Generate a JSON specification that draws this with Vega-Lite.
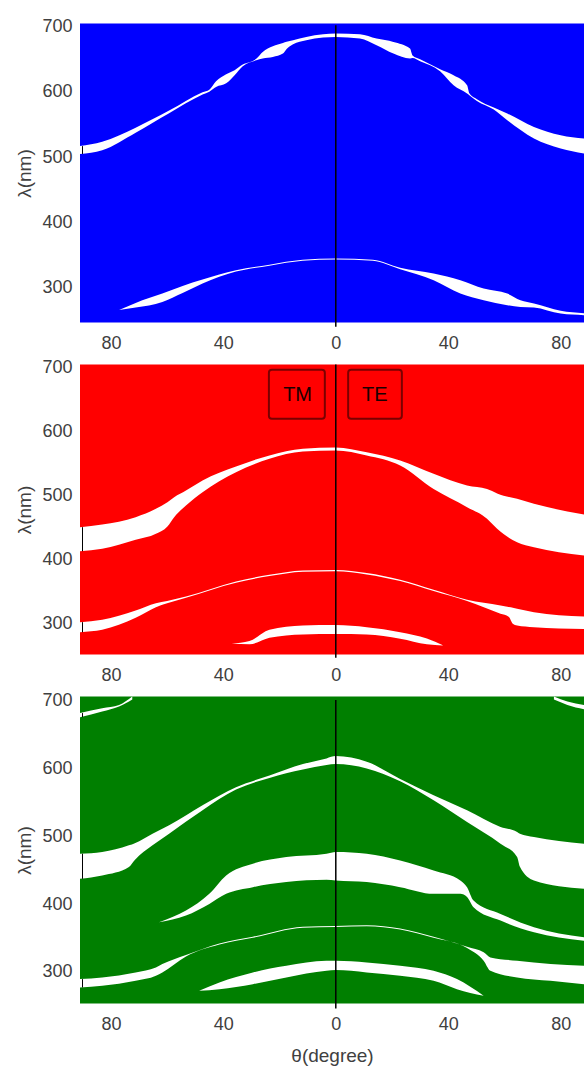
{
  "$schema": "https://vega.github.io/schema/vega-lite/v6.json",
  "padding": {"left": 15, "top": 17.5, "right": 0, "bottom": 2},
  "bounds": "flush",
  "spacing": 42,
  "config": {
    "font": "Liberation Sans",
    "view": {"stroke": null},
    "axis": {
      "labelFont": "Liberation Sans", "labelFontSize": 18, "labelColor": "#404040",
      "titleFont": "Liberation Sans", "titleFontSize": 19, "titleColor": "#404040", "titleFontWeight": "normal",
      "grid": false, "ticks": false, "domain": false, "labelFlush": false
    }
  },
  "datasets": {
    "bg": [
      {"p": 1, "t1": -91, "t2": 88.3, "l1": 246.7, "l2": 704.9},
      {"p": 2, "t1": -91, "t2": 88.3, "l1": 252.1, "l2": 704.2},
      {"p": 3, "t1": -91, "t2": 88.3, "l1": 253.2, "l2": 706.5}
    ],
    "zero": [
      {"p": 1, "t": 0, "l1": 240, "l2": 702.3},
      {"p": 2, "t": 0, "l1": 247, "l2": 704.2},
      {"p": 3, "t": 0, "l1": 246, "l2": 701.5}
    ],
    "boxes": [
      {"label": "TM", "t1": -23.8, "t2": -3.9, "l1": 619.6, "l2": 695.9, "tc": -13.6, "lc": 656.5},
      {"label": "TE", "t1": 4.4, "t2": 23.5, "l1": 619.6, "l2": 695.9, "tc": 13.9, "lc": 656.5}
    ],
    "gaps": [
      {"p":1,"g":"A","t":-91,"lo":505,"hi":517},
      {"p":1,"g":"A","t":-83.1,"lo":510.7,"hi":523.5},
      {"p":1,"g":"A","t":-71.2,"lo":537.5,"hi":545.2},
      {"p":1,"g":"A","t":-59.3,"lo":567.4,"hi":571.4},
      {"p":1,"g":"A","t":-47.4,"lo":596,"hi":599.5},
      {"p":1,"g":"A","t":-45,"lo":600.5,"hi":603.5},
      {"p":1,"g":"A","t":-42.6,"lo":607.7,"hi":616.5},
      {"p":1,"g":"A","t":-39,"lo":613.3,"hi":627.2},
      {"p":1,"g":"A","t":-36,"lo":625.7,"hi":633.3},
      {"p":1,"g":"A","t":-33.1,"lo":639.5,"hi":642},
      {"p":1,"g":"A","t":-28.3,"lo":648.5,"hi":651},
      {"p":1,"g":"A","t":-26,"lo":651.3,"hi":661.4},
      {"p":1,"g":"A","t":-22.4,"lo":653.7,"hi":670.1},
      {"p":1,"g":"A","t":-18.8,"lo":658.9,"hi":675.2},
      {"p":1,"g":"A","t":-17.5,"lo":666,"hi":677},
      {"p":1,"g":"A","t":-15.2,"lo":673.2,"hi":679.3},
      {"p":1,"g":"A","t":-10.5,"lo":679.3,"hi":684.4},
      {"p":1,"g":"A","t":-4.5,"lo":683.4,"hi":688.5},
      {"p":1,"g":"A","t":0,"lo":684.4,"hi":689.6},
      {"p":1,"g":"A","t":8.6,"lo":681.9,"hi":688.5},
      {"p":1,"g":"A","t":14.5,"lo":671.6,"hi":681.9},
      {"p":1,"g":"A","t":20.5,"lo":658.9,"hi":676.7},
      {"p":1,"g":"A","t":26.4,"lo":651.3,"hi":666.6},
      {"p":1,"g":"A","t":27.3,"lo":652,"hi":656},
      {"p":1,"g":"A","t":30,"lo":647.2,"hi":650.2},
      {"p":1,"g":"A","t":37.1,"lo":631.8,"hi":634.8},
      {"p":1,"g":"A","t":41.9,"lo":610.3,"hi":625.7},
      {"p":1,"g":"A","t":46.7,"lo":597.6,"hi":610.3},
      {"p":1,"g":"A","t":47.5,"lo":595,"hi":598},
      {"p":1,"g":"A","t":50.2,"lo":586,"hi":589},
      {"p":1,"g":"A","t":56.2,"lo":573,"hi":576},
      {"p":1,"g":"A","t":61,"lo":556.7,"hi":567},
      {"p":1,"g":"A","t":70.5,"lo":528.6,"hi":546.4},
      {"p":1,"g":"A","t":80,"lo":513.3,"hi":533.7},
      {"p":1,"g":"A","t":88.3,"lo":505.7,"hi":528.6},
      {"p":1,"g":"B","t":-77.1,"lo":266,"hi":266},
      {"p":1,"g":"B","t":-71.2,"lo":269.7,"hi":276.7},
      {"p":1,"g":"B","t":-61.7,"lo":278.3,"hi":291},
      {"p":1,"g":"B","t":-54.5,"lo":292,"hi":302.8},
      {"p":1,"g":"B","t":-47.4,"lo":306.4,"hi":312.5},
      {"p":1,"g":"B","t":-35.5,"lo":324.8,"hi":326.8},
      {"p":1,"g":"B","t":-23.6,"lo":333.8,"hi":335.3},
      {"p":1,"g":"B","t":-11.8,"lo":341.2,"hi":342.8},
      {"p":1,"g":"B","t":0,"lo":343.3,"hi":344.8},
      {"p":1,"g":"B","t":13.2,"lo":341.2,"hi":342.8},
      {"p":1,"g":"B","t":22.9,"lo":328.3,"hi":330.5},
      {"p":1,"g":"B","t":34.8,"lo":311.5,"hi":321.8},
      {"p":1,"g":"B","t":44.3,"lo":291,"hi":311.5},
      {"p":1,"g":"B","t":52.6,"lo":280.8,"hi":298.8},
      {"p":1,"g":"B","t":61,"lo":273.2,"hi":291},
      {"p":1,"g":"B","t":65.7,"lo":270.6,"hi":280.8},
      {"p":1,"g":"B","t":70.5,"lo":269.7,"hi":275.8},
      {"p":1,"g":"B","t":80,"lo":260.4,"hi":264.7},
      {"p":1,"g":"B","t":88.3,"lo":258,"hi":261},
      {"p":2,"g":"A","t":-91,"lo":413.2,"hi":450.6},
      {"p":2,"g":"A","t":-83.1,"lo":416.9,"hi":454.8},
      {"p":2,"g":"A","t":-71.2,"lo":430.9,"hi":466.2},
      {"p":2,"g":"A","t":-64,"lo":440.3,"hi":479.3},
      {"p":2,"g":"A","t":-59.9,"lo":451.7,"hi":489.6},
      {"p":2,"g":"A","t":-57.5,"lo":466.2,"hi":497.4},
      {"p":2,"g":"A","t":-53.3,"lo":484.4,"hi":507.8},
      {"p":2,"g":"A","t":-47.4,"lo":505.2,"hi":523.4},
      {"p":2,"g":"A","t":-35.5,"lo":536.4,"hi":545.2},
      {"p":2,"g":"A","t":-23.6,"lo":557.2,"hi":562.4},
      {"p":2,"g":"A","t":-11.7,"lo":568.5,"hi":572.7},
      {"p":2,"g":"A","t":0,"lo":570,"hi":575},
      {"p":2,"g":"A","t":11,"lo":562.4,"hi":567.5},
      {"p":2,"g":"A","t":22.9,"lo":546.8,"hi":554.6},
      {"p":2,"g":"A","t":34.8,"lo":510,"hi":533.8},
      {"p":2,"g":"A","t":46.7,"lo":481.8,"hi":515.6},
      {"p":2,"g":"A","t":53.8,"lo":463.6,"hi":510},
      {"p":2,"g":"A","t":55.6,"lo":455.9,"hi":507},
      {"p":2,"g":"A","t":57.4,"lo":448,"hi":503},
      {"p":2,"g":"A","t":64.5,"lo":427.2,"hi":494.9},
      {"p":2,"g":"A","t":70.5,"lo":419.4,"hi":487},
      {"p":2,"g":"A","t":88.3,"lo":406.5,"hi":470.4},
      {"p":2,"g":"B","t":-91,"lo":286.9,"hi":302.5},
      {"p":2,"g":"B","t":-83.1,"lo":290.6,"hi":306.2},
      {"p":2,"g":"B","t":-71.2,"lo":309.3,"hi":320.7},
      {"p":2,"g":"B","t":-64,"lo":325.9,"hi":332.1},
      {"p":2,"g":"B","t":-60,"lo":332,"hi":335.5},
      {"p":2,"g":"B","t":-53.3,"lo":340.5,"hi":342.5},
      {"p":2,"g":"B","t":-35.5,"lo":364,"hi":366},
      {"p":2,"g":"B","t":-23.6,"lo":374.3,"hi":376.3},
      {"p":2,"g":"B","t":-11.7,"lo":381,"hi":383},
      {"p":2,"g":"B","t":0,"lo":382,"hi":384},
      {"p":2,"g":"B","t":11,"lo":377,"hi":379},
      {"p":2,"g":"B","t":22.9,"lo":366.5,"hi":368.5},
      {"p":2,"g":"B","t":34.8,"lo":351,"hi":353},
      {"p":2,"g":"B","t":46.7,"lo":335.5,"hi":337.5},
      {"p":2,"g":"B","t":58.6,"lo":315.6,"hi":328.5},
      {"p":2,"g":"B","t":61.5,"lo":311,"hi":326},
      {"p":2,"g":"B","t":63,"lo":300,"hi":325},
      {"p":2,"g":"B","t":64.5,"lo":297.3,"hi":323.4},
      {"p":2,"g":"B","t":70.5,"lo":294.7,"hi":318.1},
      {"p":2,"g":"B","t":88.3,"lo":292,"hi":311.4},
      {"p":2,"g":"C","t":-37,"lo":268.8,"hi":268.8},
      {"p":2,"g":"C","t":-30.7,"lo":268,"hi":273},
      {"p":2,"g":"C","t":-23.6,"lo":278.1,"hi":290.6},
      {"p":2,"g":"C","t":-11.7,"lo":283.3,"hi":297.3},
      {"p":2,"g":"C","t":0,"lo":284,"hi":298},
      {"p":2,"g":"C","t":11,"lo":283.3,"hi":294.7},
      {"p":2,"g":"C","t":22.9,"lo":276.6,"hi":286.9},
      {"p":2,"g":"C","t":32.4,"lo":268,"hi":277},
      {"p":2,"g":"C","t":38.3,"lo":266,"hi":266},
      {"p":3,"g":"T0","t":-91,"lo":676,"hi":682},
      {"p":3,"g":"T0","t":-83.1,"lo":684.3,"hi":689.2},
      {"p":3,"g":"T0","t":-77.1,"lo":691.7,"hi":694},
      {"p":3,"g":"T0","t":-72.4,"lo":702,"hi":706.5},
      {"p":3,"g":"T1","t":77.6,"lo":702,"hi":706.5},
      {"p":3,"g":"T1","t":82.4,"lo":694,"hi":699},
      {"p":3,"g":"T1","t":88.3,"lo":687.7,"hi":694},
      {"p":3,"g":"A","t":-91,"lo":437.3,"hi":474.4},
      {"p":3,"g":"A","t":-83.1,"lo":442.2,"hi":476.9},
      {"p":3,"g":"A","t":-73.6,"lo":454.7,"hi":486.7},
      {"p":3,"g":"A","t":-71.5,"lo":465,"hi":490},
      {"p":3,"g":"A","t":-65.2,"lo":486.7,"hi":504},
      {"p":3,"g":"A","t":-59.3,"lo":504,"hi":516.3},
      {"p":3,"g":"A","t":-47.4,"lo":538.5,"hi":545.9},
      {"p":3,"g":"A","t":-35.5,"lo":569,"hi":572.5},
      {"p":3,"g":"A","t":-23.6,"lo":586.3,"hi":589.8},
      {"p":3,"g":"A","t":-11.7,"lo":598.8,"hi":606.7},
      {"p":3,"g":"A","t":-3.3,"lo":605.2,"hi":615.1},
      {"p":3,"g":"A","t":0,"lo":606.7,"hi":618.5},
      {"p":3,"g":"A","t":11,"lo":600.3,"hi":610.2},
      {"p":3,"g":"A","t":22.9,"lo":581.3,"hi":584.8},
      {"p":3,"g":"A","t":34.8,"lo":553.3,"hi":560.7},
      {"p":3,"g":"A","t":46.7,"lo":521.3,"hi":538.5},
      {"p":3,"g":"A","t":58.6,"lo":489.2,"hi":513.9},
      {"p":3,"g":"A","t":64.5,"lo":469.5,"hi":506.5},
      {"p":3,"g":"A","t":65.5,"lo":455,"hi":504},
      {"p":3,"g":"A","t":70.5,"lo":434.8,"hi":499.1},
      {"p":3,"g":"A","t":88.3,"lo":422.5,"hi":489.2},
      {"p":3,"g":"B","t":-62.9,"lo":373.2,"hi":373.2},
      {"p":3,"g":"B","t":-53.3,"lo":383,"hi":390.4},
      {"p":3,"g":"B","t":-45,"lo":400.3,"hi":415.1},
      {"p":3,"g":"B","t":-39,"lo":415.1,"hi":442.2},
      {"p":3,"g":"B","t":-29.5,"lo":425,"hi":459.6},
      {"p":3,"g":"B","t":-17.6,"lo":432.5,"hi":469.5},
      {"p":3,"g":"B","t":-3.3,"lo":435.9,"hi":474.4},
      {"p":3,"g":"B","t":0,"lo":434.8,"hi":476.9},
      {"p":3,"g":"B","t":11,"lo":432.5,"hi":474.4},
      {"p":3,"g":"B","t":22.9,"lo":425,"hi":464.4},
      {"p":3,"g":"B","t":34.8,"lo":415.1,"hi":449.6},
      {"p":3,"g":"B","t":44.3,"lo":415.1,"hi":434.8},
      {"p":3,"g":"B","t":46.7,"lo":410.3,"hi":425},
      {"p":3,"g":"B","t":49,"lo":395.4,"hi":405.2},
      {"p":3,"g":"B","t":58.6,"lo":375.6,"hi":385.5},
      {"p":3,"g":"B","t":70.5,"lo":358.4,"hi":365.8},
      {"p":3,"g":"B","t":88.3,"lo":345.9,"hi":351},
      {"p":3,"g":"C","t":-91,"lo":276.9,"hi":289.2},
      {"p":3,"g":"C","t":-83.1,"lo":279.3,"hi":291.7},
      {"p":3,"g":"C","t":-71.2,"lo":286.7,"hi":299.1},
      {"p":3,"g":"C","t":-64,"lo":294,"hi":306.5},
      {"p":3,"g":"C","t":-61.7,"lo":299.1,"hi":311.4},
      {"p":3,"g":"C","t":-53.3,"lo":322.7,"hi":324.7},
      {"p":3,"g":"C","t":-41.4,"lo":340.2,"hi":341.8},
      {"p":3,"g":"C","t":-29.5,"lo":350.2,"hi":351.8},
      {"p":3,"g":"C","t":-11.7,"lo":365,"hi":366.6},
      {"p":3,"g":"C","t":0,"lo":366.2,"hi":367.8},
      {"p":3,"g":"C","t":11,"lo":367.3,"hi":368.9},
      {"p":3,"g":"C","t":22.9,"lo":362.5,"hi":364.1},
      {"p":3,"g":"C","t":34.8,"lo":350.2,"hi":351.8},
      {"p":3,"g":"C","t":46.7,"lo":335,"hi":337},
      {"p":3,"g":"C","t":52.6,"lo":316.3,"hi":328.7},
      {"p":3,"g":"C","t":55,"lo":301.5,"hi":321.3},
      {"p":3,"g":"C","t":64.5,"lo":291.7,"hi":316.3},
      {"p":3,"g":"C","t":76.4,"lo":286.7,"hi":311.4},
      {"p":3,"g":"C","t":88.3,"lo":281.8,"hi":308.9},
      {"p":3,"g":"D","t":-48.6,"lo":271.9,"hi":271.9},
      {"p":3,"g":"D","t":-41.4,"lo":274.4,"hi":284.3},
      {"p":3,"g":"D","t":-29.5,"lo":281.8,"hi":299.1},
      {"p":3,"g":"D","t":-17.6,"lo":291.7,"hi":308.9},
      {"p":3,"g":"D","t":-3.3,"lo":301.5,"hi":316.3},
      {"p":3,"g":"D","t":0,"lo":302.5,"hi":316.3},
      {"p":3,"g":"D","t":11,"lo":299.1,"hi":313.9},
      {"p":3,"g":"D","t":22.9,"lo":294.1,"hi":308.9},
      {"p":3,"g":"D","t":34.8,"lo":286.7,"hi":301.5},
      {"p":3,"g":"D","t":43.1,"lo":274.4,"hi":289.2},
      {"p":3,"g":"D","t":52.6,"lo":264.5,"hi":264.5}
    ]
  },
  "vconcat": [
    {
      "width": 504, "height": 299,
      "layer": [
        {"data": {"name": "bg"}, "transform": [{"filter": "datum.p == 1"}],
         "mark": {"type": "rect", "color": "#0000FF"},
         "encoding": {
           "x": {"field": "t1", "type": "quantitative", "scale": {"domain": [-91, 88.3], "nice": false, "zero": false},
                 "axis": {"values": [-80, -40, 0, 40, 80], "labelExpr": "'' + abs(datum.value)", "labelPadding": 12, "title": null}},
           "x2": {"field": "t2"},
           "y": {"field": "l1", "type": "quantitative", "scale": {"domain": [246.7, 704.9], "nice": false, "zero": false},
                 "axis": {"values": [300, 400, 500, 600, 700], "labelPadding": 8, "titlePadding": 7, "title": "λ(nm)"}},
           "y2": {"field": "l2"}
         }},
        {"data": {"name": "gaps"}, "transform": [{"filter": "datum.p == 1"}],
         "mark": {"type": "area", "color": "#FFFFFF", "interpolate": "monotone"},
         "encoding": {"x": {"field": "t", "type": "quantitative"}, "y": {"field": "hi", "type": "quantitative"}, "y2": {"field": "lo"}, "detail": {"field": "g"}}},
        {"data": {"name": "gaps"}, "transform": [{"filter": "datum.p == 1 && datum.t == -91"}],
         "mark": {"type": "rule", "color": "#000000", "strokeWidth": 1, "xOffset": 2.5},
         "encoding": {"x": {"field": "t", "type": "quantitative"}, "y": {"field": "lo", "type": "quantitative"}, "y2": {"field": "hi"}}},
        {"data": {"name": "zero"}, "transform": [{"filter": "datum.p == 1"}],
         "mark": {"type": "rule", "color": "#000000", "strokeWidth": 1.5},
         "encoding": {"x": {"field": "t", "type": "quantitative"}, "y": {"field": "l1", "type": "quantitative"}, "y2": {"field": "l2"}}}
      ]
    },
    {
      "width": 504, "height": 290,
      "layer": [
        {"data": {"name": "bg"}, "transform": [{"filter": "datum.p == 2"}],
         "mark": {"type": "rect", "color": "#FF0000"},
         "encoding": {
           "x": {"field": "t1", "type": "quantitative", "scale": {"domain": [-91, 88.3], "nice": false, "zero": false},
                 "axis": {"values": [-80, -40, 0, 40, 80], "labelExpr": "'' + abs(datum.value)", "labelPadding": 12, "title": null}},
           "x2": {"field": "t2"},
           "y": {"field": "l1", "type": "quantitative", "scale": {"domain": [252.1, 704.2], "nice": false, "zero": false},
                 "axis": {"values": [300, 400, 500, 600, 700], "labelPadding": 8, "titlePadding": 7, "title": "λ(nm)"}},
           "y2": {"field": "l2"}
         }},
        {"data": {"name": "gaps"}, "transform": [{"filter": "datum.p == 2"}],
         "mark": {"type": "area", "color": "#FFFFFF", "interpolate": "monotone"},
         "encoding": {"x": {"field": "t", "type": "quantitative"}, "y": {"field": "hi", "type": "quantitative"}, "y2": {"field": "lo"}, "detail": {"field": "g"}}},
        {"data": {"name": "gaps"}, "transform": [{"filter": "datum.p == 2 && datum.t == -91"}],
         "mark": {"type": "rule", "color": "#000000", "strokeWidth": 1, "xOffset": 2.5},
         "encoding": {"x": {"field": "t", "type": "quantitative"}, "y": {"field": "lo", "type": "quantitative"}, "y2": {"field": "hi"}}},
        {"data": {"name": "zero"}, "transform": [{"filter": "datum.p == 2"}],
         "mark": {"type": "rule", "color": "#000000", "strokeWidth": 1.5},
         "encoding": {"x": {"field": "t", "type": "quantitative"}, "y": {"field": "l1", "type": "quantitative"}, "y2": {"field": "l2"}}},
        {"data": {"name": "boxes"},
         "mark": {"type": "rect", "filled": false, "stroke": "#7a0000", "strokeWidth": 2, "cornerRadius": 3},
         "encoding": {"x": {"field": "t1", "type": "quantitative"}, "x2": {"field": "t2"}, "y": {"field": "l1", "type": "quantitative"}, "y2": {"field": "l2"}}},
        {"data": {"name": "boxes"},
         "mark": {"type": "text", "fontSize": 20, "font": "Liberation Sans", "color": "#1a0000", "align": "center", "baseline": "middle"},
         "encoding": {"x": {"field": "tc", "type": "quantitative"}, "y": {"field": "lc", "type": "quantitative"}, "text": {"field": "label"}}}
      ]
    },
    {
      "width": 504, "height": 307,
      "layer": [
        {"data": {"name": "bg"}, "transform": [{"filter": "datum.p == 3"}],
         "mark": {"type": "rect", "color": "#007F00"},
         "encoding": {
           "x": {"field": "t1", "type": "quantitative", "scale": {"domain": [-91, 88.3], "nice": false, "zero": false},
                 "axis": {"values": [-80, -40, 0, 40, 80], "labelExpr": "'' + abs(datum.value)", "labelPadding": 12, "titlePadding": 13, "title": "θ(degree)"}},
           "x2": {"field": "t2"},
           "y": {"field": "l1", "type": "quantitative", "scale": {"domain": [253.2, 706.5], "nice": false, "zero": false},
                 "axis": {"values": [300, 400, 500, 600, 700], "labelPadding": 8, "titlePadding": 7, "title": "λ(nm)"}},
           "y2": {"field": "l2"}
         }},
        {"data": {"name": "gaps"}, "transform": [{"filter": "datum.p == 3"}],
         "mark": {"type": "area", "color": "#FFFFFF", "interpolate": "monotone"},
         "encoding": {"x": {"field": "t", "type": "quantitative"}, "y": {"field": "hi", "type": "quantitative"}, "y2": {"field": "lo"}, "detail": {"field": "g"}}},
        {"data": {"name": "gaps"}, "transform": [{"filter": "datum.p == 3 && datum.t == -91"}],
         "mark": {"type": "rule", "color": "#000000", "strokeWidth": 1, "xOffset": 2.5},
         "encoding": {"x": {"field": "t", "type": "quantitative"}, "y": {"field": "lo", "type": "quantitative"}, "y2": {"field": "hi"}}},
        {"data": {"name": "zero"}, "transform": [{"filter": "datum.p == 3"}],
         "mark": {"type": "rule", "color": "#000000", "strokeWidth": 1.5},
         "encoding": {"x": {"field": "t", "type": "quantitative"}, "y": {"field": "l1", "type": "quantitative"}, "y2": {"field": "l2"}}}
      ]
    }
  ]
}
